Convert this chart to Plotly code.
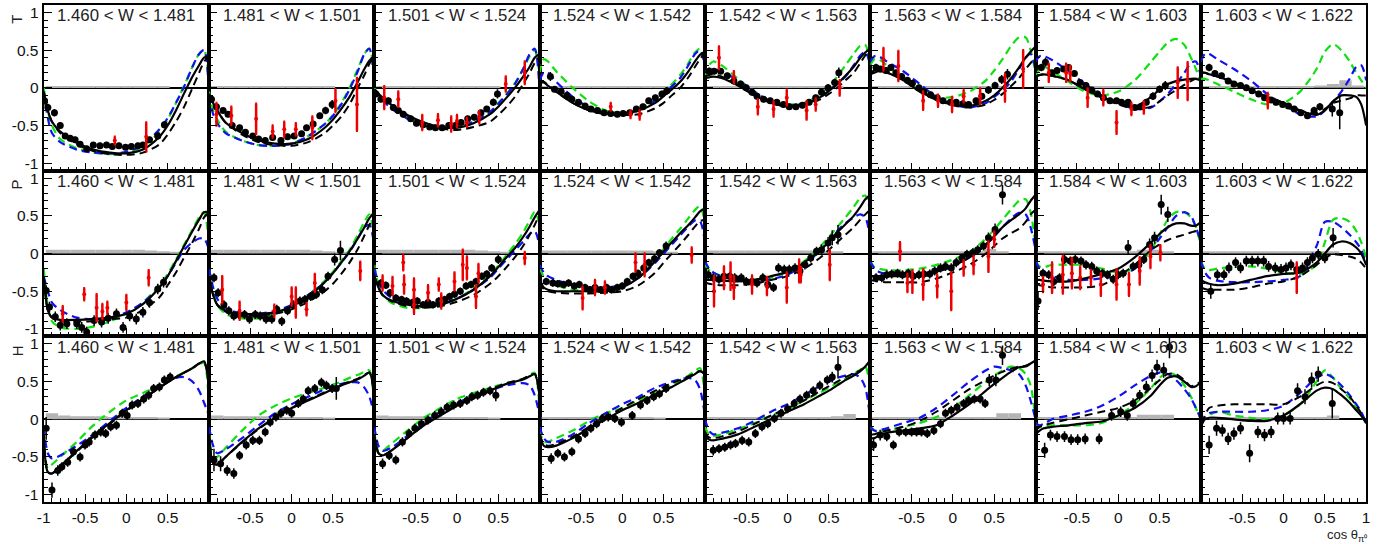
import plotly.graph_objects as go

TITLES = ["1.460 < W < 1.481", "1.481 < W < 1.501", "1.501 < W < 1.524", "1.524 < W < 1.542",
          "1.542 < W < 1.563", "1.563 < W < 1.584", "1.584 < W < 1.603", "1.603 < W < 1.622"]
OBS = ["T", "P", "H"]

# x grid of the model curves
CX = [-1, -0.95, -0.9, -0.8, -0.6, -0.4, -0.2, 0, 0.2, 0.4, 0.5, 0.6, 0.7, 0.8, 0.88, 0.94, 1]

# ---------------- T ----------------
T_SOLID = [
    [-0.05,-0.3,-0.45,-0.58,-0.73,-0.82,-0.86,-0.87,-0.82,-0.65,-0.5,-0.3,-0.07,0.15,0.3,0.4,0.42],
    [-0.08,-0.2,-0.3,-0.46,-0.6,-0.7,-0.74,-0.74,-0.68,-0.53,-0.42,-0.28,-0.12,0.08,0.25,0.36,0.42],
    [-0.02,-0.08,-0.13,-0.22,-0.36,-0.46,-0.52,-0.53,-0.47,-0.35,-0.25,-0.13,0.0,0.15,0.28,0.4,0.45],
    [0.07,0.07,0.03,-0.05,-0.2,-0.3,-0.34,-0.35,-0.3,-0.2,-0.11,-0.02,0.08,0.22,0.35,0.44,0.48],
    [0.13,0.14,0.15,0.13,0.03,-0.1,-0.2,-0.24,-0.22,-0.12,-0.04,0.05,0.16,0.28,0.4,0.47,0.52],
    [0.18,0.2,0.22,0.2,0.1,-0.05,-0.15,-0.22,-0.24,-0.17,-0.1,0.0,0.12,0.27,0.4,0.48,0.55],
    [0.15,0.17,0.18,0.16,0.1,-0.02,-0.12,-0.2,-0.25,-0.12,-0.02,0.05,0.09,0.11,0.12,0.12,0.1],
    [0.2,0.2,0.18,0.15,0.07,-0.03,-0.12,-0.2,-0.3,-0.36,-0.3,-0.18,-0.1,-0.1,-0.12,-0.22,-0.5],
]
T_DASH = [
    [-0.05,-0.3,-0.45,-0.6,-0.75,-0.84,-0.88,-0.89,-0.86,-0.75,-0.62,-0.45,-0.25,0.0,0.2,0.35,0.42],
    [-0.08,-0.2,-0.3,-0.46,-0.62,-0.72,-0.76,-0.77,-0.72,-0.6,-0.5,-0.38,-0.22,0.0,0.17,0.32,0.43],
    [-0.02,-0.08,-0.13,-0.22,-0.37,-0.48,-0.54,-0.56,-0.52,-0.45,-0.36,-0.25,-0.12,0.05,0.2,0.33,0.42],
    [0.08,0.08,0.04,-0.05,-0.2,-0.3,-0.35,-0.36,-0.35,-0.27,-0.2,-0.1,0.0,0.14,0.28,0.38,0.47],
    [0.15,0.17,0.18,0.15,0.04,-0.1,-0.2,-0.25,-0.23,-0.15,-0.08,0.0,0.1,0.2,0.33,0.43,0.5],
    [0.2,0.23,0.25,0.22,0.1,-0.05,-0.16,-0.23,-0.26,-0.22,-0.16,-0.08,0.02,0.13,0.25,0.33,0.4],
    [0.15,0.17,0.18,0.16,0.1,-0.02,-0.13,-0.22,-0.28,-0.25,-0.18,-0.1,-0.03,0.04,0.09,0.12,0.12],
    [0.2,0.2,0.18,0.15,0.07,-0.03,-0.12,-0.2,-0.3,-0.34,-0.28,-0.2,-0.17,-0.14,-0.1,-0.1,-0.1],
]
T_GREEN = [
    [0.0,-0.3,-0.5,-0.68,-0.8,-0.86,-0.88,-0.86,-0.78,-0.58,-0.42,-0.2,0.03,0.28,0.45,0.5,0.05],
    [-0.05,-0.3,-0.42,-0.58,-0.7,-0.76,-0.77,-0.74,-0.64,-0.48,-0.36,-0.2,0.0,0.25,0.45,0.52,0.2],
    [0.0,-0.08,-0.14,-0.25,-0.4,-0.5,-0.53,-0.52,-0.45,-0.32,-0.2,-0.08,0.06,0.25,0.42,0.5,0.15],
    [0.2,0.38,0.35,0.22,0.0,-0.18,-0.3,-0.33,-0.28,-0.15,-0.05,0.05,0.17,0.33,0.47,0.52,0.3],
    [0.15,0.3,0.35,0.3,0.12,-0.05,-0.18,-0.22,-0.2,-0.08,0.02,0.15,0.3,0.45,0.56,0.57,0.25],
    [0.3,0.38,0.38,0.3,0.12,-0.05,-0.13,-0.12,-0.05,0.1,0.23,0.38,0.55,0.67,0.67,0.5,0.2],
    [0.15,0.25,0.28,0.22,0.08,-0.05,-0.1,-0.05,0.1,0.35,0.48,0.6,0.65,0.57,0.4,0.25,0.05],
    [0.12,0.12,0.1,0.05,-0.05,-0.15,-0.22,-0.2,-0.05,0.25,0.48,0.58,0.5,0.35,0.2,0.1,0.0],
]
T_BLUE = [
    [-0.05,-0.4,-0.6,-0.72,-0.82,-0.86,-0.87,-0.85,-0.76,-0.55,-0.4,-0.2,0.02,0.28,0.45,0.5,-0.1],
    [-0.1,-0.35,-0.47,-0.6,-0.7,-0.76,-0.77,-0.74,-0.64,-0.48,-0.37,-0.22,-0.02,0.22,0.45,0.52,0.0],
    [-0.02,-0.1,-0.16,-0.27,-0.41,-0.5,-0.53,-0.52,-0.45,-0.32,-0.21,-0.09,0.05,0.25,0.45,0.52,-0.05],
    [0.1,0.2,0.2,0.08,-0.12,-0.26,-0.33,-0.34,-0.29,-0.17,-0.08,0.02,0.13,0.3,0.45,0.5,0.3],
    [0.2,0.25,0.25,0.22,0.1,-0.05,-0.18,-0.23,-0.21,-0.12,-0.04,0.05,0.15,0.3,0.43,0.48,0.3],
    [0.35,0.42,0.42,0.35,0.22,0.05,-0.12,-0.22,-0.26,-0.2,-0.12,-0.03,0.08,0.25,0.4,0.45,0.25],
    [0.35,0.42,0.42,0.37,0.22,0.05,-0.1,-0.2,-0.28,-0.26,-0.18,-0.08,0.05,0.2,0.33,0.35,0.15],
    [0.35,0.45,0.45,0.38,0.25,0.1,-0.08,-0.22,-0.35,-0.38,-0.3,-0.18,-0.05,0.12,0.28,0.3,0.1],
]
T_DATA_X = [
    [-0.99,-0.95,-0.87,-0.8,-0.74,-0.68,-0.62,-0.56,-0.48,-0.4,-0.32,-0.24,-0.17,-0.09,-0.01,0.06,0.14,0.2,0.28,0.38,0.46],
    [-0.97,-0.91,-0.83,-0.77,-0.72,-0.63,-0.56,-0.47,-0.4,-0.32,-0.23,-0.13,-0.05,0.03,0.12,0.18,0.26,0.34,0.41,0.49],
    [-0.98,-0.92,-0.83,-0.77,-0.71,-0.65,-0.56,-0.49,-0.41,-0.33,-0.26,-0.18,-0.1,-0.02,0.05,0.13,0.21,0.29,0.36,0.44,0.49],
    [-0.87,-0.82,-0.74,-0.67,-0.61,-0.53,-0.45,-0.38,-0.3,-0.22,-0.14,-0.06,0.01,0.09,0.17,0.25,0.32,0.4,0.48,0.54],
    [-0.95,-0.89,-0.81,-0.73,-0.65,-0.57,-0.5,-0.43,-0.37,-0.29,-0.21,-0.13,-0.05,0.02,0.1,0.18,0.26,0.34,0.41,0.49,0.57,0.62],
    [-0.93,-0.88,-0.81,-0.75,-0.69,-0.62,-0.55,-0.49,-0.41,-0.35,-0.27,-0.19,-0.12,-0.03,0.04,0.12,0.19,0.28,0.35,0.43,0.51,0.59,0.66],
    [-0.93,-0.88,-0.8,-0.74,-0.66,-0.6,-0.53,-0.46,-0.39,-0.32,-0.25,-0.18,-0.1,-0.02,0.04,0.12,0.2,0.27,0.34,0.42,0.5,0.57],
    [-0.9,-0.83,-0.75,-0.67,-0.6,-0.52,-0.45,-0.38,-0.3,-0.23,-0.15,-0.09,-0.01,0.06,0.13,0.21,0.29,0.37,0.44,0.59,0.68],
]
T_DATA_Y = [
    [-0.17,-0.26,-0.33,-0.5,-0.64,-0.67,-0.69,-0.75,-0.81,-0.76,-0.77,-0.76,-0.78,-0.77,-0.79,-0.78,-0.77,-0.76,-0.69,-0.64,-0.49],
    [-0.15,-0.25,-0.3,-0.35,-0.5,-0.53,-0.59,-0.64,-0.68,-0.7,-0.66,-0.7,-0.65,-0.64,-0.61,-0.53,-0.48,-0.37,-0.3,-0.22],
    [-0.08,-0.15,-0.17,-0.26,-0.3,-0.35,-0.41,-0.47,-0.49,-0.52,-0.53,-0.53,-0.5,-0.5,-0.46,-0.41,-0.39,-0.33,-0.28,-0.19,-0.08],
    [0.15,-0.02,-0.05,-0.1,-0.15,-0.19,-0.24,-0.28,-0.3,-0.33,-0.34,-0.35,-0.34,-0.33,-0.28,-0.25,-0.17,-0.13,-0.08,-0.04],
    [0.22,0.22,0.22,0.16,0.09,0.05,0.0,-0.06,-0.11,-0.15,-0.17,-0.19,-0.22,-0.25,-0.25,-0.23,-0.19,-0.13,-0.06,0.0,0.07,0.2],
    [0.27,0.25,0.23,0.27,0.2,0.15,0.1,0.06,0.0,-0.05,-0.09,-0.13,-0.17,-0.19,-0.19,-0.21,-0.22,-0.17,-0.11,-0.03,0.03,0.11,0.18],
    [0.27,0.34,0.2,0.23,0.25,0.27,0.19,0.07,0.03,-0.03,-0.08,-0.13,-0.17,-0.17,-0.19,-0.19,-0.26,-0.25,-0.19,-0.11,-0.02,0.03],
    [0.27,0.19,0.16,0.09,0.05,0.03,0.0,-0.04,-0.08,-0.13,-0.16,-0.19,-0.22,-0.24,-0.28,-0.33,-0.37,-0.3,-0.25,-0.28,-0.33],
]
T_DATA_E = [
    [0.05,0.05,0.05,0.04,0.04,0.04,0.04,0.04,0.04,0.04,0.04,0.04,0.04,0.04,0.04,0.04,0.04,0.04,0.04,0.05,0.05],
    [0.05,0.04,0.04,0.04,0.04,0.04,0.04,0.04,0.04,0.04,0.04,0.04,0.04,0.04,0.04,0.04,0.04,0.04,0.05,0.06],
    [0.04,0.04,0.04,0.04,0.04,0.04,0.04,0.04,0.04,0.04,0.04,0.04,0.04,0.04,0.04,0.04,0.04,0.04,0.04,0.05,0.06],
    [0.06,0.04,0.04,0.04,0.04,0.04,0.04,0.04,0.04,0.04,0.04,0.04,0.04,0.04,0.04,0.04,0.04,0.04,0.04,0.05],
    [0.05,0.04,0.04,0.04,0.04,0.04,0.04,0.04,0.04,0.04,0.04,0.04,0.04,0.04,0.04,0.04,0.04,0.04,0.04,0.05,0.05,0.07],
    [0.05,0.04,0.04,0.04,0.04,0.04,0.04,0.04,0.04,0.04,0.04,0.04,0.04,0.04,0.04,0.04,0.04,0.04,0.04,0.05,0.05,0.06,0.07],
    [0.05,0.06,0.04,0.04,0.04,0.04,0.04,0.04,0.04,0.04,0.04,0.04,0.04,0.04,0.04,0.04,0.04,0.04,0.04,0.05,0.05,0.06],
    [0.05,0.04,0.04,0.04,0.04,0.04,0.04,0.04,0.04,0.04,0.04,0.04,0.04,0.04,0.04,0.04,0.04,0.05,0.05,0.1,0.22],
]
T_RED_X = [[-0.14,0.24], [-0.91,-0.73,-0.43,-0.23,-0.09,0.05,0.25,0.53,0.79],
           [-0.88,-0.71,-0.42,-0.23,-0.07,0.0,0.12,0.27,0.59,0.82], [-0.14,0.1,0.21],
           [-0.83,-0.65,-0.36,-0.17,-0.01,0.23,0.34,0.63], [-0.84,-0.66,-0.36,-0.18,-0.01,0.13,0.33,0.63,0.85],
           [-0.84,-0.63,-0.58,-0.37,-0.18,-0.02,0.16,0.31,0.72,0.84], [-0.19]]
T_RED_Y = [[-0.70,-0.65], [-0.35,-0.37,-0.41,-0.58,-0.55,-0.55,-0.53,-0.17,-0.22],
           [-0.13,-0.15,-0.46,-0.43,-0.48,-0.44,-0.46,-0.39,0.05,0.2], [-0.25,-0.35,-0.36],
           [0.4,0.14,-0.25,-0.28,-0.13,-0.3,-0.22,0.0], [0.38,0.29,-0.17,-0.17,-0.22,-0.11,-0.11,0.0,0.25],
           [0.2,0.2,0.19,-0.13,-0.13,-0.46,-0.28,-0.26,0.07,0.09], [-0.17]]
T_RED_E = [[0.05,0.19], [0.15,0.12,0.2,0.08,0.1,0.08,0.15,0.15,0.35],
           [0.15,0.1,0.1,0.08,0.1,0.08,0.06,0.08,0.1,0.15], [0.05,0.05,0.06],
           [0.15,0.08,0.1,0.1,0.1,0.12,0.08,0.1], [0.15,0.2,0.12,0.08,0.1,0.08,0.1,0.18,0.25],
           [0.12,0.12,0.1,0.12,0.1,0.15,0.08,0.08,0.2,0.25], [0.1]]

# ---------------- P ----------------
P_SOLID = [
    [-0.3,-0.75,-0.85,-0.88,-0.88,-0.87,-0.85,-0.8,-0.67,-0.45,-0.3,-0.1,0.1,0.3,0.45,0.55,0.55],
    [-0.3,-0.55,-0.68,-0.76,-0.8,-0.8,-0.78,-0.7,-0.57,-0.38,-0.26,-0.12,0.03,0.2,0.35,0.47,0.55],
    [-0.3,-0.45,-0.55,-0.62,-0.68,-0.7,-0.68,-0.6,-0.48,-0.3,-0.18,-0.05,0.07,0.22,0.36,0.48,0.58],
    [-0.35,-0.45,-0.48,-0.5,-0.5,-0.5,-0.5,-0.45,-0.32,-0.1,0.03,0.15,0.27,0.38,0.48,0.56,0.6],
    [-0.35,-0.35,-0.35,-0.36,-0.37,-0.35,-0.3,-0.24,-0.12,0.05,0.16,0.28,0.39,0.5,0.62,0.72,0.78],
    [-0.3,-0.3,-0.3,-0.3,-0.3,-0.28,-0.24,-0.16,-0.05,0.12,0.23,0.35,0.44,0.52,0.6,0.7,0.78],
    [-0.35,-0.35,-0.36,-0.37,-0.37,-0.33,-0.27,-0.2,-0.05,0.15,0.26,0.35,0.4,0.4,0.37,0.37,0.42],
    [-0.35,-0.38,-0.4,-0.42,-0.4,-0.35,-0.3,-0.27,-0.25,-0.12,0.0,0.12,0.16,0.14,0.08,0.0,-0.15],
]
P_DASH = [
    [-0.3,-0.75,-0.85,-0.9,-0.9,-0.9,-0.87,-0.85,-0.75,-0.58,-0.42,-0.25,-0.05,0.15,0.33,0.48,0.55],
    [-0.3,-0.55,-0.68,-0.77,-0.82,-0.82,-0.8,-0.74,-0.64,-0.5,-0.4,-0.27,-0.12,0.06,0.24,0.38,0.5],
    [-0.3,-0.45,-0.55,-0.63,-0.7,-0.72,-0.7,-0.64,-0.55,-0.4,-0.3,-0.18,-0.05,0.1,0.25,0.38,0.52],
    [-0.38,-0.47,-0.5,-0.52,-0.53,-0.53,-0.52,-0.5,-0.42,-0.25,-0.12,0.0,0.12,0.25,0.36,0.43,0.45],
    [-0.38,-0.4,-0.41,-0.42,-0.42,-0.4,-0.35,-0.3,-0.2,-0.05,0.05,0.15,0.25,0.35,0.45,0.52,0.58],
    [-0.35,-0.36,-0.37,-0.38,-0.38,-0.38,-0.33,-0.25,-0.15,0.0,0.1,0.2,0.27,0.33,0.42,0.52,0.58],
    [-0.4,-0.42,-0.43,-0.45,-0.45,-0.45,-0.42,-0.3,-0.15,0.05,0.12,0.18,0.22,0.25,0.28,0.3,0.33],
    [-0.45,-0.47,-0.48,-0.48,-0.48,-0.45,-0.4,-0.37,-0.3,-0.15,-0.06,-0.01,-0.02,-0.04,-0.07,-0.12,-0.2],
]
P_GREEN = [
    [-0.2,-0.7,-0.9,-0.98,-1.0,-0.97,-0.9,-0.8,-0.65,-0.42,-0.27,-0.08,0.12,0.32,0.48,0.55,0.1],
    [-0.2,-0.5,-0.68,-0.8,-0.86,-0.86,-0.8,-0.7,-0.55,-0.36,-0.24,-0.1,0.05,0.25,0.42,0.52,0.2],
    [-0.15,-0.42,-0.55,-0.65,-0.72,-0.72,-0.68,-0.6,-0.46,-0.28,-0.16,-0.02,0.12,0.28,0.44,0.55,0.4],
    [-0.2,-0.3,-0.36,-0.42,-0.48,-0.5,-0.5,-0.44,-0.3,-0.08,0.06,0.2,0.33,0.47,0.58,0.63,0.4],
    [-0.15,-0.22,-0.25,-0.3,-0.34,-0.35,-0.32,-0.24,-0.1,0.1,0.22,0.35,0.48,0.62,0.74,0.77,0.55],
    [-0.1,-0.18,-0.2,-0.22,-0.22,-0.2,-0.15,-0.08,0.02,0.2,0.32,0.45,0.58,0.7,0.72,0.55,0.1],
    [-0.1,-0.17,-0.18,-0.15,-0.15,-0.15,-0.2,-0.25,-0.2,0.05,0.25,0.45,0.55,0.55,0.48,0.35,0.1],
    [-0.1,-0.2,-0.22,-0.2,-0.18,-0.17,-0.2,-0.25,-0.27,-0.15,0.15,0.45,0.47,0.42,0.3,0.15,-0.05],
]
P_BLUE = [
    [-0.3,-0.5,-0.65,-0.75,-0.85,-0.87,-0.85,-0.78,-0.65,-0.45,-0.3,-0.12,0.05,0.15,0.2,0.2,0.05],
    [-0.2,-0.45,-0.6,-0.72,-0.8,-0.8,-0.76,-0.68,-0.55,-0.38,-0.26,-0.12,0.02,0.2,0.35,0.38,0.1],
    [-0.2,-0.38,-0.48,-0.58,-0.66,-0.68,-0.66,-0.6,-0.48,-0.32,-0.2,-0.08,0.04,0.16,0.26,0.3,0.1],
    [-0.15,-0.25,-0.3,-0.35,-0.42,-0.45,-0.45,-0.42,-0.32,-0.12,0.0,0.12,0.24,0.36,0.44,0.43,0.15],
    [-0.1,-0.2,-0.25,-0.3,-0.35,-0.37,-0.34,-0.28,-0.15,0.05,0.17,0.3,0.4,0.48,0.52,0.48,0.2],
    [-0.1,-0.2,-0.24,-0.27,-0.3,-0.3,-0.25,-0.16,-0.05,0.12,0.23,0.35,0.46,0.54,0.52,0.35,0.05],
    [-0.1,-0.2,-0.25,-0.3,-0.35,-0.35,-0.33,-0.3,-0.2,0.05,0.2,0.35,0.5,0.55,0.5,0.35,0.15],
    [-0.1,-0.25,-0.32,-0.36,-0.38,-0.38,-0.37,-0.35,-0.3,0.1,0.42,0.42,0.35,0.25,0.15,0.05,-0.15],
]
P_DATA_X = [
    [-0.97,-0.93,-0.86,-0.8,-0.72,-0.6,-0.54,-0.48,-0.39,-0.3,-0.22,-0.12,-0.04,0.04,0.12,0.2,0.28,0.38,0.45],
    [-0.94,-0.89,-0.82,-0.76,-0.7,-0.64,-0.57,-0.51,-0.44,-0.38,-0.31,-0.24,-0.18,-0.12,-0.05,0.02,0.1,0.16,0.23,0.3,0.37,0.44,0.52,0.59],
    [-0.92,-0.86,-0.81,-0.74,-0.67,-0.61,-0.54,-0.48,-0.41,-0.35,-0.29,-0.22,-0.15,-0.09,-0.03,0.04,0.11,0.17,0.23,0.3,0.36,0.42,0.5],
    [-0.92,-0.84,-0.78,-0.71,-0.65,-0.58,-0.52,-0.45,-0.39,-0.33,-0.26,-0.19,-0.13,-0.06,0.0,0.06,0.13,0.19,0.26,0.32,0.39,0.45,0.53],
    [-0.96,-0.9,-0.83,-0.77,-0.7,-0.64,-0.56,-0.5,-0.43,-0.37,-0.3,-0.24,-0.17,-0.11,-0.04,0.02,0.09,0.15,0.21,0.28,0.35,0.41,0.49,0.54,0.61],
    [-0.93,-0.86,-0.8,-0.74,-0.67,-0.61,-0.54,-0.48,-0.41,-0.35,-0.28,-0.22,-0.15,-0.09,-0.02,0.04,0.11,0.17,0.24,0.3,0.37,0.43,0.51,0.6],
    [-0.97,-0.91,-0.84,-0.78,-0.71,-0.65,-0.58,-0.52,-0.45,-0.39,-0.32,-0.26,-0.19,-0.13,-0.06,0.0,0.06,0.12,0.18,0.25,0.31,0.38,0.44,0.52,0.6],
    [-0.88,-0.8,-0.72,-0.66,-0.58,-0.52,-0.45,-0.38,-0.31,-0.24,-0.18,-0.1,-0.03,0.03,0.09,0.16,0.23,0.29,0.35,0.42,0.5,0.6],
]
P_DATA_Y = [
    [-0.49,-0.71,-0.84,-0.95,-0.93,-0.93,-0.98,-1.04,-0.89,-0.91,-0.86,-0.8,-0.98,-0.83,-0.87,-0.78,-0.65,-0.47,-0.38],
    [-0.32,-0.52,-0.68,-0.76,-0.83,-0.81,-0.81,-0.87,-0.81,-0.83,-0.87,-0.87,-0.74,-0.9,-0.76,-0.68,-0.63,-0.61,-0.57,-0.54,-0.48,-0.3,-0.08,0.04],
    [-0.39,-0.42,-0.52,-0.59,-0.61,-0.63,-0.65,-0.63,-0.68,-0.65,-0.68,-0.63,-0.61,-0.57,-0.54,-0.5,-0.43,-0.41,-0.37,-0.3,-0.27,-0.19,-0.08],
    [-0.37,-0.39,-0.4,-0.41,-0.39,-0.43,-0.41,-0.45,-0.48,-0.45,-0.48,-0.45,-0.48,-0.45,-0.43,-0.37,-0.3,-0.26,-0.19,-0.12,-0.07,0.01,0.1],
    [-0.28,-0.32,-0.34,-0.3,-0.3,-0.32,-0.32,-0.37,-0.37,-0.39,-0.32,-0.41,-0.45,-0.19,-0.21,-0.21,-0.19,-0.23,-0.15,-0.06,0.03,0.05,0.14,0.21,0.25],
    [-0.32,-0.32,-0.28,-0.27,-0.26,-0.28,-0.26,-0.3,-0.28,-0.27,-0.27,-0.23,-0.19,-0.17,-0.19,-0.12,-0.06,-0.01,0.01,0.05,0.1,0.21,0.32,0.78],
    [-0.63,-0.26,-0.28,-0.37,-0.32,-0.08,-0.1,-0.08,-0.1,-0.15,-0.17,-0.23,-0.26,-0.28,-0.34,-0.28,-0.26,0.08,-0.17,-0.15,-0.08,0.12,0.21,0.65,0.52],
    [-0.5,-0.28,-0.28,-0.19,-0.12,-0.19,-0.1,-0.1,-0.1,-0.1,-0.17,-0.19,-0.21,-0.19,-0.15,-0.21,-0.19,-0.12,-0.06,-0.01,-0.06,0.21],
]
P_DATA_E = [
    [0.07,0.07,0.07,0.07,0.07,0.07,0.07,0.07,0.07,0.07,0.07,0.07,0.07,0.07,0.07,0.07,0.07,0.07,0.07],
    [0.06,0.06,0.06,0.06,0.06,0.06,0.06,0.06,0.06,0.06,0.06,0.06,0.06,0.06,0.06,0.06,0.06,0.06,0.06,0.06,0.06,0.06,0.08,0.13],
    [0.05,0.05,0.05,0.05,0.05,0.05,0.05,0.05,0.05,0.05,0.05,0.05,0.05,0.05,0.05,0.05,0.05,0.05,0.05,0.05,0.05,0.05,0.06],
    [0.05,0.05,0.05,0.05,0.05,0.05,0.05,0.05,0.05,0.05,0.05,0.05,0.05,0.05,0.05,0.05,0.05,0.05,0.05,0.05,0.05,0.05,0.06],
    [0.06,0.06,0.06,0.06,0.06,0.06,0.06,0.06,0.06,0.06,0.06,0.06,0.06,0.06,0.06,0.06,0.06,0.06,0.06,0.06,0.06,0.07,0.08,0.1,0.13],
    [0.06,0.06,0.06,0.06,0.06,0.06,0.06,0.06,0.06,0.06,0.06,0.06,0.06,0.06,0.06,0.06,0.06,0.06,0.06,0.06,0.06,0.07,0.08,0.13],
    [0.12,0.06,0.06,0.06,0.06,0.06,0.06,0.06,0.06,0.06,0.06,0.06,0.06,0.06,0.06,0.06,0.06,0.1,0.06,0.06,0.06,0.08,0.08,0.13,0.1],
    [0.1,0.07,0.07,0.07,0.07,0.07,0.07,0.07,0.07,0.07,0.07,0.07,0.07,0.07,0.07,0.07,0.07,0.07,0.07,0.07,0.07,0.13],
]
P_RED_X = [[-0.77,-0.51,-0.36,-0.29,-0.23,0.0,0.27], [-0.84,-0.63,-0.21,0.0,0.05,0.18,0.28,0.83],
           [-0.9,-0.78,-0.65,-0.64,-0.52,-0.52,-0.35,-0.22,-0.19,-0.03,0.07,0.12,0.23,0.26,0.82],
           [-0.48,-0.33,-0.21,0.16,0.27,0.84], [-0.89,-0.77,-0.69,-0.65,-0.43,-0.25,-0.01,0.14,0.16,0.51],
           [-0.64,-0.55,-0.49,-0.36,-0.19,-0.02,0.13,0.25,0.43,0.5],
           [-0.91,-0.8,-0.67,-0.56,-0.46,-0.33,-0.21,-0.02,0.13,0.26,0.39,0.51], [0.16]]
P_RED_Y = [[-0.8,-0.54,-0.72,-0.77,-0.72,-0.65,-0.32], [-0.48,-0.76,-0.76,-0.57,-0.65,-0.74,-0.39,-0.23],
           [-0.39,-0.43,-0.12,-0.41,-0.48,-0.68,-0.52,-0.41,-0.63,-0.37,-0.15,-0.19,-0.57,-0.26,-0.06],
           [-0.59,-0.45,-0.45,-0.12,-0.15,-0.02], [-0.5,-0.32,-0.3,-0.45,-0.41,-0.43,-0.45,-0.23,-0.28,-0.15],
           [0.03,-0.39,-0.37,-0.41,-0.43,-0.5,-0.19,-0.15,-0.04,0.19],
           [-0.41,-0.32,-0.28,-0.26,-0.32,-0.32,-0.41,-0.41,-0.41,-0.23,-0.04,0.01], [-0.32]]
P_RED_E = [[0.1,0.08,0.18,0.1,0.08,0.1,0.1], [0.18,0.12,0.08,0.12,0.2,0.08,0.12,0.12],
           [0.1,0.12,0.1,0.12,0.15,0.12,0.1,0.08,0.1,0.12,0.2,0.15,0.15,0.12,0.08],
           [0.15,0.1,0.08,0.12,0.15,0.1], [0.2,0.15,0.18,0.15,0.12,0.12,0.2,0.15,0.1,0.2],
           [0.12,0.12,0.15,0.2,0.15,0.25,0.1,0.12,0.2,0.1],
           [0.1,0.2,0.25,0.2,0.15,0.1,0.15,0.2,0.15,0.18,0.15,0.1], [0.2]]

# ---------------- H ----------------
H_SOLID = [
    [-0.2,-0.7,-0.72,-0.62,-0.42,-0.22,-0.05,0.12,0.27,0.42,0.49,0.56,0.62,0.68,0.74,0.77,0.4],
    [-0.2,-0.58,-0.6,-0.5,-0.3,-0.12,0.02,0.15,0.25,0.35,0.4,0.45,0.49,0.53,0.58,0.62,0.3],
    [-0.2,-0.45,-0.48,-0.42,-0.25,-0.08,0.05,0.18,0.28,0.38,0.43,0.47,0.5,0.53,0.57,0.6,0.3],
    [-0.2,-0.35,-0.37,-0.35,-0.25,-0.12,0.0,0.12,0.22,0.33,0.38,0.43,0.49,0.55,0.6,0.64,0.6],
    [-0.2,-0.27,-0.28,-0.26,-0.2,-0.1,0.0,0.1,0.2,0.32,0.38,0.45,0.52,0.58,0.64,0.7,0.78],
    [-0.25,-0.25,-0.22,-0.18,-0.15,-0.12,-0.08,0.05,0.2,0.38,0.47,0.55,0.63,0.69,0.7,0.74,0.78],
    [-0.2,-0.15,-0.12,-0.1,-0.08,-0.05,-0.03,0.05,0.15,0.32,0.45,0.55,0.57,0.5,0.43,0.44,0.5],
    [-0.1,0.0,0.02,0.02,0.0,-0.02,-0.02,0.05,0.2,0.38,0.42,0.4,0.32,0.22,0.12,0.05,-0.05],
]
H_DASH = [
    [-0.2,-0.7,-0.72,-0.63,-0.43,-0.23,-0.06,0.11,0.26,0.42,0.49,0.56,0.62,0.68,0.74,0.76,0.45],
    [-0.2,-0.58,-0.6,-0.5,-0.31,-0.13,0.02,0.15,0.26,0.36,0.41,0.46,0.5,0.54,0.59,0.62,0.3],
    [-0.2,-0.45,-0.48,-0.42,-0.25,-0.08,0.06,0.19,0.29,0.39,0.44,0.48,0.51,0.54,0.58,0.6,0.3],
    [-0.2,-0.33,-0.35,-0.33,-0.23,-0.1,0.03,0.15,0.27,0.38,0.43,0.48,0.52,0.57,0.61,0.64,0.6],
    [-0.18,-0.24,-0.25,-0.23,-0.16,-0.06,0.05,0.15,0.25,0.38,0.44,0.5,0.56,0.61,0.65,0.7,0.78],
    [-0.2,-0.2,-0.18,-0.15,-0.1,-0.02,0.1,0.25,0.4,0.52,0.58,0.63,0.67,0.7,0.71,0.74,0.78],
    [-0.15,-0.1,-0.08,-0.05,0.0,0.05,0.1,0.15,0.25,0.42,0.52,0.6,0.6,0.52,0.44,0.46,0.5],
    [-0.05,0.05,0.15,0.18,0.2,0.2,0.2,0.2,0.3,0.45,0.5,0.48,0.4,0.3,0.18,0.08,-0.05],
]
H_GREEN = [
    [-0.2,-0.65,-0.6,-0.5,-0.3,-0.08,0.1,0.25,0.35,0.45,0.51,0.57,0.62,0.68,0.73,0.75,0.1],
    [-0.15,-0.5,-0.5,-0.38,-0.15,0.05,0.18,0.28,0.35,0.42,0.46,0.5,0.55,0.59,0.63,0.65,0.1],
    [-0.15,-0.42,-0.42,-0.33,-0.15,0.02,0.15,0.27,0.35,0.42,0.45,0.48,0.5,0.53,0.59,0.62,0.1],
    [-0.15,-0.3,-0.3,-0.25,-0.15,-0.02,0.08,0.15,0.25,0.35,0.4,0.45,0.52,0.58,0.64,0.68,0.3],
    [-0.1,-0.2,-0.22,-0.2,-0.13,-0.05,0.05,0.13,0.25,0.36,0.42,0.48,0.54,0.6,0.66,0.7,0.4],
    [-0.1,-0.15,-0.17,-0.15,-0.1,-0.05,0.03,0.15,0.32,0.5,0.58,0.65,0.7,0.68,0.6,0.45,0.0],
    [-0.05,-0.1,-0.1,-0.08,-0.08,-0.08,-0.05,0.05,0.2,0.42,0.55,0.62,0.58,0.45,0.3,0.15,0.0],
    [-0.05,0.0,0.05,0.1,0.05,0.02,0.0,0.05,0.2,0.5,0.65,0.55,0.4,0.28,0.15,0.05,-0.05],
]
H_BLUE = [
    [-0.1,-0.45,-0.52,-0.48,-0.35,-0.2,-0.02,0.15,0.3,0.45,0.5,0.55,0.56,0.5,0.38,0.22,0.05],
    [-0.1,-0.35,-0.45,-0.4,-0.25,-0.08,0.08,0.2,0.3,0.4,0.44,0.47,0.49,0.49,0.42,0.3,0.05],
    [-0.1,-0.35,-0.42,-0.38,-0.22,-0.05,0.1,0.22,0.3,0.38,0.42,0.45,0.47,0.48,0.45,0.32,0.05],
    [-0.1,-0.25,-0.3,-0.3,-0.2,-0.05,0.08,0.2,0.3,0.42,0.46,0.5,0.53,0.55,0.52,0.4,0.05],
    [0.0,-0.15,-0.2,-0.18,-0.12,-0.02,0.1,0.2,0.32,0.45,0.5,0.55,0.58,0.6,0.55,0.42,0.0],
    [-0.1,-0.15,-0.15,-0.12,-0.05,0.02,0.15,0.32,0.5,0.65,0.7,0.68,0.65,0.6,0.45,0.25,0.0],
    [-0.05,-0.08,-0.06,0.0,0.05,0.1,0.18,0.3,0.45,0.58,0.62,0.6,0.52,0.4,0.28,0.15,0.0],
    [-0.05,0.02,0.08,0.1,0.1,0.1,0.12,0.18,0.35,0.55,0.6,0.55,0.45,0.32,0.2,0.1,-0.05],
]
H_DATA_X = [
    [-0.97,-0.9,-0.83,-0.78,-0.71,-0.64,-0.56,-0.5,-0.45,-0.38,-0.31,-0.25,-0.19,-0.12,-0.05,0.01,0.07,0.14,0.21,0.27,0.33,0.4,0.46,0.53],
    [-0.94,-0.86,-0.78,-0.7,-0.63,-0.55,-0.47,-0.39,-0.32,-0.26,-0.19,-0.13,-0.06,0.0,0.08,0.14,0.2,0.28,0.36,0.42,0.49,0.54],
    [-0.9,-0.82,-0.74,-0.66,-0.58,-0.51,-0.43,-0.35,-0.27,-0.19,-0.12,-0.04,0.04,0.12,0.18,0.25,0.32,0.4,0.47],
    [-0.86,-0.78,-0.7,-0.61,-0.53,-0.45,-0.38,-0.31,-0.24,-0.17,-0.09,-0.01,0.12,0.22,0.3,0.38,0.45,0.53],
    [-0.9,-0.83,-0.76,-0.69,-0.63,-0.55,-0.47,-0.39,-0.31,-0.24,-0.16,-0.08,0.0,0.08,0.15,0.23,0.31,0.39,0.48,0.54,0.61],
    [-0.96,-0.88,-0.8,-0.72,-0.65,-0.57,-0.5,-0.44,-0.38,-0.31,-0.23,-0.15,-0.09,-0.02,0.05,0.13,0.19,0.26,0.33,0.39,0.44,0.52,0.6],
    [-0.89,-0.82,-0.74,-0.65,-0.57,-0.49,-0.4,-0.23,-0.08,0.03,0.11,0.18,0.26,0.34,0.41,0.47,0.55,0.62],
    [-0.9,-0.81,-0.74,-0.67,-0.6,-0.52,-0.41,-0.31,-0.23,-0.15,-0.07,0.0,0.08,0.17,0.26,0.34,0.42,0.59],
]
H_DATA_Y = [
    [-0.12,-0.94,-0.68,-0.63,-0.57,-0.43,-0.5,-0.34,-0.3,-0.21,-0.17,-0.19,-0.1,-0.08,0.08,0.05,0.19,0.21,0.27,0.32,0.41,0.43,0.52,0.56],
    [-0.54,-0.59,-0.68,-0.72,-0.48,-0.34,-0.28,-0.28,-0.17,-0.04,0.03,0.08,0.12,0.08,0.21,0.27,0.38,0.41,0.49,0.45,0.41,0.41],
    [-0.59,-0.48,-0.54,-0.3,-0.19,-0.12,-0.06,-0.01,0.05,0.1,0.16,0.19,0.21,0.25,0.3,0.32,0.36,0.38,0.32],
    [-0.52,-0.45,-0.5,-0.43,-0.26,-0.19,-0.12,-0.06,0.01,0.03,0.01,-0.04,0.05,0.19,0.25,0.3,0.34,0.41],
    [-0.41,-0.39,-0.37,-0.34,-0.32,-0.28,-0.3,-0.19,-0.1,-0.06,0.01,0.08,0.14,0.21,0.27,0.32,0.38,0.45,0.52,0.56,0.69],
    [-0.34,-0.21,-0.23,-0.34,-0.17,-0.17,-0.17,-0.17,-0.17,-0.19,-0.15,-0.06,0.08,0.12,0.16,0.21,0.25,0.27,0.27,0.21,0.52,0.52,0.85],
    [-0.41,-0.21,-0.23,-0.23,-0.27,-0.27,-0.26,-0.26,0.05,0.1,0.05,0.21,0.32,0.43,0.58,0.69,0.65,0.96],
    [-0.34,-0.12,-0.15,-0.26,-0.19,-0.12,-0.45,-0.17,-0.21,-0.17,0.01,0.01,0.01,0.38,0.3,0.52,0.6,0.21],
]
H_DATA_E = [
    [0.15,0.1,0.07,0.06,0.06,0.06,0.06,0.06,0.06,0.06,0.06,0.06,0.06,0.06,0.06,0.06,0.06,0.06,0.06,0.06,0.06,0.06,0.06,0.06],
    [0.15,0.1,0.07,0.07,0.06,0.06,0.06,0.06,0.06,0.06,0.06,0.06,0.06,0.06,0.06,0.06,0.06,0.06,0.06,0.06,0.06,0.15],
    [0.07,0.06,0.06,0.06,0.06,0.06,0.06,0.06,0.06,0.06,0.06,0.06,0.06,0.06,0.06,0.06,0.06,0.06,0.08],
    [0.07,0.06,0.06,0.06,0.06,0.06,0.06,0.06,0.06,0.06,0.06,0.06,0.06,0.06,0.06,0.06,0.06,0.06],
    [0.07,0.06,0.06,0.06,0.06,0.06,0.06,0.06,0.06,0.06,0.06,0.06,0.06,0.06,0.06,0.06,0.06,0.06,0.06,0.07,0.15],
    [0.08,0.07,0.06,0.06,0.06,0.06,0.06,0.06,0.06,0.06,0.06,0.06,0.06,0.06,0.06,0.06,0.06,0.06,0.06,0.06,0.08,0.08,0.13],
    [0.1,0.07,0.07,0.07,0.07,0.07,0.07,0.07,0.07,0.07,0.07,0.07,0.07,0.08,0.08,0.1,0.1,0.15],
    [0.12,0.1,0.08,0.08,0.08,0.08,0.12,0.08,0.08,0.08,0.08,0.08,0.08,0.1,0.1,0.1,0.1,0.2],
]

# systematic uncertainty bars (grey), on a coarse x grid
SYS_X = [-0.9, -0.75, -0.6, -0.45, -0.3, -0.15, 0, 0.15, 0.3, 0.45, 0.6, 0.75, 0.9]
T_SYS = [
    [0.015,0.015,0.015,0.015,0.015,0.015,0.015,0.015,0.015,0.015,0.0,0.0,0.0],
    [0.015,0.015,0.015,0.015,0.015,0.015,0.015,0.015,0.015,0.015,0.0,0.0,0.0],
    [0.015,0.015,0.015,0.015,0.015,0.015,0.015,0.015,0.015,0.015,0.0,0.0,0.0],
    [0.015,0.015,0.015,0.015,0.015,0.015,0.015,0.015,0.015,0.015,0.015,0.0,0.0],
    [0.015,0.015,0.015,0.015,0.015,0.015,0.015,0.015,0.015,0.015,0.015,0.0,0.0],
    [0.015,0.015,0.015,0.015,0.015,0.015,0.015,0.015,0.015,0.015,0.015,0.0,0.0],
    [0.015,0.015,0.015,0.015,0.015,0.015,0.015,0.015,0.015,0.015,0.015,0.0,0.0],
    [0.015,0.015,0.015,0.015,0.015,0.015,0.015,0.015,0.015,0.03,0.05,0.1,0.03],
]
P_SYS = [
    [0.05,0.05,0.05,0.05,0.05,0.05,0.05,0.05,0.04,0.03,0.02,0.0,0.0],
    [0.05,0.05,0.05,0.05,0.05,0.05,0.05,0.05,0.04,0.03,0.02,0.0,0.0],
    [0.05,0.05,0.05,0.05,0.05,0.05,0.05,0.05,0.04,0.03,0.02,0.0,0.0],
    [0.04,0.04,0.04,0.04,0.04,0.04,0.04,0.04,0.04,0.03,0.02,0.0,0.0],
    [0.04,0.04,0.04,0.04,0.04,0.04,0.04,0.04,0.04,0.03,0.03,0.0,0.0],
    [0.03,0.03,0.03,0.03,0.03,0.03,0.03,0.03,0.03,0.06,0.03,0.0,0.0],
    [0.03,0.03,0.03,0.03,0.03,0.03,0.03,0.03,0.05,0.05,0.03,0.0,0.0],
    [0.03,0.03,0.03,0.03,0.03,0.03,0.03,0.03,0.03,0.03,0.03,0.0,0.0],
]
H_SYS = [
    [0.08,0.05,0.04,0.04,0.04,0.03,0.03,0.03,0.03,0.02,0.0,0.0,0.0],
    [0.05,0.04,0.04,0.04,0.04,0.03,0.03,0.03,0.03,0.02,0.0,0.0,0.0],
    [0.05,0.04,0.04,0.04,0.04,0.03,0.03,0.03,0.03,0.02,0.0,0.0,0.0],
    [0.03,0.03,0.03,0.03,0.03,0.03,0.03,0.03,0.03,0.02,0.0,0.0,0.0],
    [0.03,0.03,0.03,0.03,0.03,0.03,0.03,0.03,0.03,0.03,0.04,0.07,0.0],
    [0.03,0.03,0.03,0.03,0.03,0.03,0.03,0.03,0.03,0.03,0.08,0.08,0.0],
    [0.03,0.03,0.03,0.03,0.03,0.03,0.03,0.03,0.06,0.06,0.06,0.0,0.0],
    [0.03,0.03,0.03,0.03,0.03,0.03,0.03,0.03,0.03,0.03,0.05,0.0,0.0],
]

ROWS = [
    dict(solid=T_SOLID, dash=T_DASH, green=T_GREEN, blue=T_BLUE, dx=T_DATA_X, dy=T_DATA_Y, de=T_DATA_E,
         rx=T_RED_X, ry=T_RED_Y, re=T_RED_E, sys=T_SYS),
    dict(solid=P_SOLID, dash=P_DASH, green=P_GREEN, blue=P_BLUE, dx=P_DATA_X, dy=P_DATA_Y, de=P_DATA_E,
         rx=P_RED_X, ry=P_RED_Y, re=P_RED_E, sys=P_SYS),
    dict(solid=H_SOLID, dash=H_DASH, green=H_GREEN, blue=H_BLUE, dx=H_DATA_X, dy=H_DATA_Y, de=H_DATA_E,
         rx=None, ry=None, re=None, sys=H_SYS),
]

W_PX, H_PX = 1391, 544
LEFT, RIGHT = 37.0, 1370.0
TOP, BOTTOM = 4.0, 503.0
PW = (RIGHT - LEFT) / 8
PH = (BOTTOM - TOP) / 3

FONT = "Liberation Sans, Arial, Helvetica, sans-serif"
GREEN = "#10e010"
BLUE = "#1010f0"
DASH = "8px,5px"

fig = go.Figure()
layout = dict(width=W_PX, height=H_PX, margin=dict(l=0, r=0, t=0, b=0),
              plot_bgcolor="white", paper_bgcolor="white", showlegend=False,
              barmode="overlay", font=dict(family=FONT, color="#111", size=15))
annotations = []

for r in range(3):
    row = ROWS[r]
    for c in range(8):
        idx = r * 8 + c + 1
        xs = "x" if idx == 1 else f"x{idx}"
        ys = "y" if idx == 1 else f"y{idx}"
        xk = "xaxis" if idx == 1 else f"xaxis{idx}"
        yk = "yaxis" if idx == 1 else f"yaxis{idx}"

        x0 = (LEFT + PW * c) / W_PX
        x1 = (LEFT + PW * (c + 1)) / W_PX
        top = TOP + PH * r
        bot = top + PH
        y0 = 1 - bot / H_PX
        y1 = 1 - top / H_PX

        if c == 0:
            tv = [-1, -0.5, 0, 0.5]
        elif c == 7:
            tv = [-0.5, 0, 0.5, 1]
        else:
            tv = [-0.5, 0, 0.5]
        tt = [("%g" % v) for v in tv]

        layout[xk] = dict(domain=[x0, x1], range=[-1, 1], anchor=ys, showgrid=False, zeroline=False,
                          showline=True, mirror=True, linecolor="black", linewidth=2.2,
                          ticks="inside", ticklen=8, tickwidth=1.2, tickcolor="black",
                          minor=dict(ticks="inside", ticklen=4, dtick=0.1, tick0=0, tickcolor="black", tickwidth=1),
                          tickvals=tv, ticktext=tt, showticklabels=(r == 2),
                          tickfont=dict(size=15.5, family=FONT, color="#111"), fixedrange=True)
        layout[yk] = dict(domain=[y0, y1], range=[-1.1, 1.1], anchor=xs, showgrid=False,
                          zeroline=True, zerolinecolor="black", zerolinewidth=1.5,
                          showline=True, mirror=True, linecolor="black", linewidth=2.2,
                          ticks="inside", ticklen=8, tickwidth=1.2, tickcolor="black",
                          minor=dict(ticks="inside", ticklen=4, dtick=0.1, tick0=0, tickcolor="black", tickwidth=1),
                          tickvals=[-1, -0.5, 0, 0.5, 1], ticktext=["-1", "-0.5", "0", "0.5", "1"],
                          showticklabels=(c == 0),
                          tickfont=dict(size=15.5, family=FONT, color="#111"), fixedrange=True)

        # systematic bars
        fig.add_trace(go.Bar(x=SYS_X, y=row["sys"][c], width=0.15, base=0,
                             marker=dict(color="#b4b4b4", line=dict(width=0)),
                             xaxis=xs, yaxis=ys, hoverinfo="skip"))
        # model curves
        fig.add_trace(go.Scatter(x=CX, y=row["green"][c], mode="lines",
                                 line=dict(color=GREEN, width=2.2, dash=DASH, shape="spline", smoothing=0.8),
                                 xaxis=xs, yaxis=ys))
        fig.add_trace(go.Scatter(x=CX, y=row["blue"][c], mode="lines",
                                 line=dict(color=BLUE, width=2.2, dash=DASH, shape="spline", smoothing=0.8),
                                 xaxis=xs, yaxis=ys))
        fig.add_trace(go.Scatter(x=CX, y=row["dash"][c], mode="lines",
                                 line=dict(color="black", width=2.0, dash=DASH, shape="spline", smoothing=0.8),
                                 xaxis=xs, yaxis=ys))
        fig.add_trace(go.Scatter(x=CX, y=row["solid"][c], mode="lines",
                                 line=dict(color="black", width=2.2, shape="spline", smoothing=0.8),
                                 xaxis=xs, yaxis=ys))
        # black data
        fig.add_trace(go.Scatter(x=row["dx"][c], y=row["dy"][c], mode="markers",
                                 marker=dict(color="black", size=7),
                                 error_y=dict(type="data", array=row["de"][c], color="black", thickness=1.5, width=0),
                                 xaxis=xs, yaxis=ys))
        # red data
        if row["rx"] is not None:
            fig.add_trace(go.Scatter(x=row["rx"][c], y=row["ry"][c], mode="markers",
                                     marker=dict(color="#ee0000", size=4),
                                     error_y=dict(type="data", array=row["re"][c], color="#ee0000",
                                                  thickness=2.5, width=1),
                                     xaxis=xs, yaxis=ys))

        # panel title
        annotations.append(dict(text=TITLES[c], xref=f"{xs} domain", yref="paper",
                                x=0.5, y=1 - (top + 11) / H_PX, xanchor="center", yanchor="middle",
                                showarrow=False, font=dict(size=16.8, family=FONT, color="#222")))

    # row label
    annotations.append(dict(text=OBS[r], xref="paper", yref="paper", x=10 / W_PX,
                            y=1 - (TOP + PH * r + 14) / H_PX, xanchor="center", yanchor="middle",
                            textangle=-90, showarrow=False, font=dict(size=15, family=FONT, color="#222")))

annotations.append(dict(text="cos θ<sub>π⁰</sub>", xref="paper", yref="paper",
                        x=1373 / W_PX, y=1 - 536 / H_PX, xanchor="right", yanchor="middle",
                        showarrow=False, font=dict(size=13, family=FONT, color="#222")))

layout["annotations"] = annotations
fig.update_layout(**layout)
fig.write_html("out.html")
